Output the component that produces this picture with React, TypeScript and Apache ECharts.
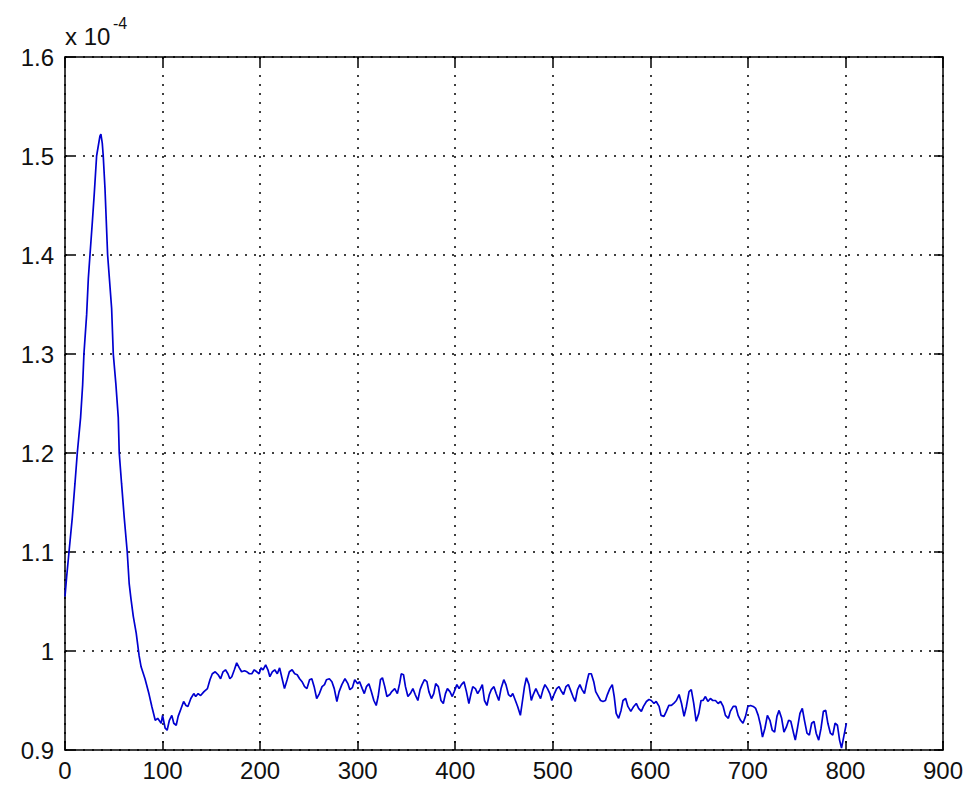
import React, { useEffect, useRef } from "react";
import * as echarts from "echarts";

// x positions (sample index) and values (in units of 1e-4)
const xValues: number[] = [
  0, 1.7, 4.1, 7.5, 10.2, 12.6, 16, 18.1, 19.4, 22.2, 23.9, 25.6, 28, 30, 32.4, 35.8, 36.8, 38.2, 39.2, 41,
  43.7, 47.8, 49.5, 52.2, 54.6, 55.6, 58, 60.7, 63.8, 65.8, 67.6, 70, 73, 76, 78, 82, 86, 89, 92.5,
  95, 98.6, 100, 102.7, 104.7, 107, 109.5, 111.5, 114, 116, 119, 121.6, 124, 126, 129, 132, 134, 136.5, 139, 142.5,
  146, 148.6, 151, 154, 157, 159.5, 162, 164.5, 167, 169, 171, 173.6, 176, 178.7, 181, 184, 186.5, 189, 191.5, 194,
  196.6, 199, 201, 203, 205.7, 208, 210, 212.5, 215, 217.6, 220, 222.6, 225, 227.7, 230, 232.8, 235.5, 238, 240.5, 243,
  245.6, 248, 250.7, 253, 255.4, 258, 260.8, 263.5, 266, 268, 271, 273.6, 276, 278.7, 281, 283.8,
  287, 290, 292, 294.6, 297, 300, 302, 304.7, 306.8, 309, 311.5, 314, 316.6, 319, 321, 323.4, 325.4, 327.8, 330, 333,
  335, 338, 340.7, 343, 344.7, 347, 349, 351.5, 354, 356.6, 359, 361.7, 364, 366, 368.5, 371, 373, 375.6, 378, 380,
  382.7, 385.4, 387.8, 390, 392, 394.6, 397, 399, 401.7, 404, 406.4, 409, 411.5, 414, 416, 418, 420.7, 423, 425.4, 427.8,
  430, 432.5, 435, 437, 439.7, 442, 444.7, 447, 449.8, 452, 454.6, 457, 459, 461.7, 464, 466.8, 469, 471, 473, 475.6,
  478, 480, 482.7, 485, 487.5, 490, 492, 494.6, 497, 499, 501.7, 504, 506.4, 509, 511, 513.5, 516, 518, 520.7, 523,
  525.4, 527.8, 530, 532.5, 535, 537, 539.5, 542, 544, 546.8, 549, 551.5, 554, 556, 558.5, 561, 563, 565, 567.5, 570,
  572, 574.7, 577, 580, 583, 585.6, 588, 590.8, 593, 596, 598.6, 601, 603.8, 606, 609, 611, 614, 616.4, 619, 621.6,
  624, 626.7, 629.5, 632, 634.6, 637, 639.7, 642, 644.5, 647, 649.7, 652, 654, 656.5, 659, 661.6, 664, 666.8, 669.5, 672,
  674.7, 677, 680, 682, 685, 687.7, 690, 692.5, 695, 697.6, 700, 702.7, 705.5, 708, 710.6, 713, 715, 717.5, 720, 722.6,
  725, 727.4, 729.8, 732, 734.6, 737, 739.4, 741.8, 744, 746.6, 748.6, 751, 753.4, 755.8, 758, 760.6, 763, 765.4, 767.8, 770,
  772.6, 775, 777.4, 779.8, 782, 784.6, 787, 789.4, 791.8, 794, 796, 797.6, 799, 801,
];

const yValues: number[] = [
  1.055, 1.075, 1.1, 1.135, 1.169, 1.2, 1.236, 1.269, 1.3, 1.34, 1.376, 1.4, 1.433, 1.462, 1.5, 1.52, 1.522, 1.513, 1.5, 1.467,
  1.4, 1.346, 1.3, 1.269, 1.236, 1.2, 1.169, 1.135, 1.1, 1.068, 1.053, 1.035, 1.018, 0.995, 0.984, 0.972, 0.957, 0.944, 0.93,
  0.932, 0.927, 0.935, 0.922, 0.92, 0.93, 0.935, 0.927, 0.925, 0.934, 0.942, 0.949, 0.945, 0.944, 0.952, 0.957, 0.954, 0.957, 0.955, 0.959,
  0.962, 0.971, 0.977, 0.979, 0.976, 0.972, 0.979, 0.981, 0.977, 0.972, 0.974, 0.981, 0.988, 0.983, 0.979, 0.98, 0.979, 0.977, 0.977, 0.981,
  0.979, 0.977, 0.983, 0.981, 0.986, 0.981, 0.974, 0.979, 0.981, 0.977, 0.983, 0.972, 0.962, 0.971, 0.979, 0.981, 0.977, 0.976, 0.972, 0.969,
  0.964, 0.962, 0.971, 0.972, 0.964, 0.952, 0.957, 0.964, 0.966, 0.971, 0.972, 0.969, 0.962, 0.949, 0.959, 0.966,
  0.972, 0.967, 0.961, 0.963, 0.971, 0.967, 0.969, 0.962, 0.957, 0.964, 0.967, 0.959, 0.95, 0.945, 0.954, 0.971, 0.973, 0.964, 0.954, 0.956,
  0.959, 0.962, 0.957, 0.967, 0.977, 0.976, 0.964, 0.954, 0.957, 0.962, 0.956, 0.95, 0.961, 0.966, 0.971, 0.969, 0.959, 0.952, 0.957, 0.967,
  0.964, 0.95, 0.947, 0.957, 0.962, 0.959, 0.954, 0.959, 0.966, 0.962, 0.966, 0.969, 0.959, 0.947, 0.956, 0.964, 0.962, 0.957, 0.961, 0.966,
  0.95, 0.945, 0.956, 0.961, 0.964, 0.957, 0.95, 0.962, 0.971, 0.966, 0.956, 0.954, 0.957, 0.95, 0.944, 0.935, 0.95, 0.964, 0.973, 0.966,
  0.95, 0.956, 0.962, 0.957, 0.952, 0.961, 0.966, 0.962, 0.957, 0.95, 0.957, 0.962, 0.964, 0.959, 0.956, 0.964, 0.966, 0.961, 0.954, 0.949,
  0.961, 0.966, 0.961, 0.957, 0.969, 0.977, 0.977, 0.969, 0.959, 0.954, 0.95, 0.949, 0.95, 0.956, 0.962, 0.966, 0.954, 0.937, 0.932, 0.94,
  0.95, 0.952, 0.944, 0.939, 0.944, 0.947, 0.942, 0.939, 0.944, 0.949, 0.951, 0.95, 0.947, 0.949, 0.944, 0.935, 0.934, 0.939, 0.945, 0.945,
  0.947, 0.95, 0.956, 0.947, 0.934, 0.944, 0.959, 0.961, 0.947, 0.929, 0.937, 0.95, 0.95, 0.954, 0.949, 0.952, 0.95, 0.95, 0.947, 0.949,
  0.944, 0.935, 0.932, 0.939, 0.944, 0.944, 0.935, 0.93, 0.927, 0.934, 0.944, 0.945, 0.944, 0.942, 0.935, 0.925, 0.913, 0.922, 0.935, 0.93,
  0.92, 0.918, 0.934, 0.94, 0.932, 0.918, 0.923, 0.93, 0.929, 0.918, 0.91, 0.923, 0.937, 0.942, 0.93, 0.917, 0.915, 0.927, 0.929, 0.917,
  0.91, 0.922, 0.939, 0.94, 0.927, 0.917, 0.915, 0.927, 0.925, 0.91, 0.902, 0.91, 0.917, 0.927,
];

const xTicks = { min: 0, max: 900, step: 100 };
const yTicks = { min: 0.9, max: 1.6, step: 0.1 };
const multiplierBase = "x 10";
const multiplierExponent = "-4";

const FONT = "'Liberation Sans', Arial, sans-serif";
const INK = "#111111";

export default function App() {
  const ref = useRef<HTMLDivElement>(null);

  useEffect(() => {
    if (!ref.current) return;
    const chart = echarts.init(ref.current, undefined, { renderer: "svg" });
    const data = xValues.map((x, i) => [x, yValues[i]]);

    const axisLine = { show: true, onZero: false, lineStyle: { color: "#000", width: 1.5 } };
    const axisTick = { show: true, inside: true, length: 9, lineStyle: { color: "#000", width: 1.5 } };
    const splitLine = { show: true, lineStyle: { color: "#000", type: [2, 7], width: 1.5 } };
    const labelStyle = { fontSize: 24, fontFamily: FONT, color: INK };

    chart.setOption({
      animation: false,
      backgroundColor: "#ffffff",
      grid: { left: 65, right: 22, top: 57, bottom: 35, containLabel: false },
      xAxis: [
        {
          type: "value",
          position: "bottom",
          min: xTicks.min,
          max: xTicks.max,
          interval: xTicks.step,
          axisLine,
          axisTick,
          axisLabel: { ...labelStyle, margin: 8 },
          splitLine,
        },
        {
          type: "value",
          position: "top",
          min: xTicks.min,
          max: xTicks.max,
          interval: xTicks.step,
          axisLine,
          axisTick,
          axisLabel: { show: false },
          splitLine: { show: false },
        },
      ],
      yAxis: [
        {
          type: "value",
          position: "left",
          min: yTicks.min,
          max: yTicks.max,
          interval: yTicks.step,
          axisLine,
          axisTick,
          axisLabel: {
            ...labelStyle,
            margin: 11,
            formatter: (v: number) => String(+v.toFixed(1)),
          },
          splitLine,
        },
        {
          type: "value",
          position: "right",
          min: yTicks.min,
          max: yTicks.max,
          interval: yTicks.step,
          axisLine,
          axisTick,
          axisLabel: { show: false },
          splitLine: { show: false },
        },
      ],
      graphic: [
        {
          type: "text",
          x: 65,
          y: 36,
          style: {
            text: multiplierBase,
            fontSize: 24,
            fontFamily: FONT,
            fill: INK,
            verticalAlign: "middle",
            align: "left",
          },
        },
        {
          type: "text",
          x: 113,
          y: 23,
          style: {
            text: multiplierExponent,
            fontSize: 16,
            fontFamily: FONT,
            fill: INK,
            verticalAlign: "middle",
            align: "left",
          },
        },
      ],
      series: [
        {
          type: "line",
          xAxisIndex: 0,
          yAxisIndex: 0,
          data,
          symbol: "none",
          showSymbol: false,
          lineStyle: { color: "#0000d0", width: 1.7 },
        },
      ],
    });

    return () => chart.dispose();
  }, []);

  return (
    <div
      ref={ref}
      style={{ position: "absolute", left: 0, top: 0, width: 966, height: 785, background: "#fff" }}
    />
  );
}
